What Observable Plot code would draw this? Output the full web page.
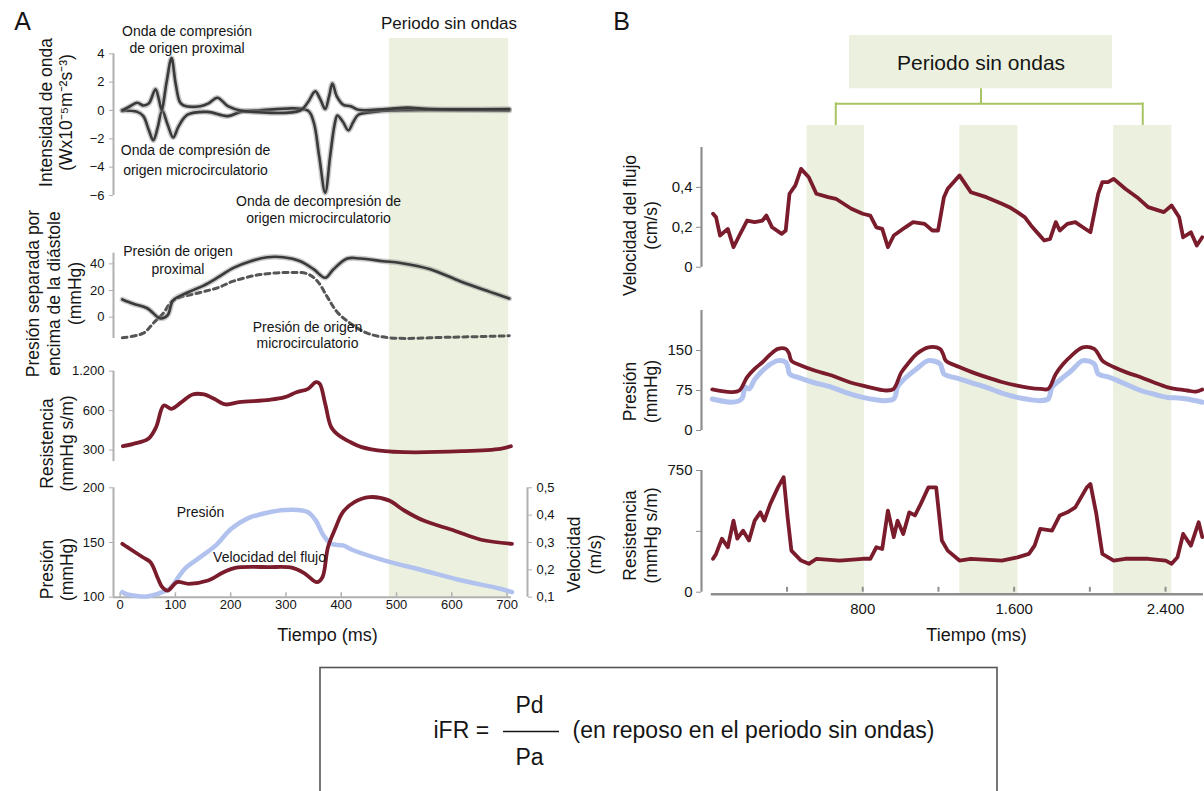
<!DOCTYPE html>
<html><head><meta charset="utf-8">
<script src="https://cdn.jsdelivr.net/npm/d3@7"></script>
<script src="https://cdn.jsdelivr.net/npm/@observablehq/plot@0.6"></script>
<style>
html,body{margin:0;padding:0;background:#fff;}
#chart{position:relative;width:1204px;height:791px;overflow:hidden;background:#fff;}
</style></head><body><div id="chart"></div>
<script>
// ---------------- Panel A data ----------------
const bandA = [487, 703];
const xTicksA = [0, 100, 200, 300, 400, 500, 600, 700];
const waveTicks = [-6, -4, -2, 0, 2, 4];
const waveTickLabels = ["\u22126", "\u22124", "\u22122", "0", "2", "4"];
const waveForward = [[4,0],[18,0.3],[31,0.55],[42,0.35],[52,0.5],[64,1.5],[70,0.8],[75,0.05],[84,2.0],[93,3.7],[100,2.0],[108,0.6],[115,0.35],[145,0.3],[160,0.5],[176,0.9],[195,0.3],[218,0],[326,0],[340,0.6],[353,1.35],[362,0.8],[371,0.1],[378,1.0],[384,1.9],[392,1.0],[404,0.4],[417,0.3],[431,0.05],[480,0.1],[520,0.2],[560,0.1],[620,0.08],[704,0.1]];
const waveBackward = [[4,0],[31,-0.1],[42,-0.4],[52,-1.4],[60,-2.1],[68,-1.2],[76,0],[86,-1.0],[96,-1.9],[106,-1.1],[122,-0.3],[158,-0.1],[194,-0.4],[218,-0.1],[250,0],[339,0],[350,-0.8],[360,-3.2],[371,-5.8],[380,-3.2],[388,-1.0],[393,-0.35],[403,-0.8],[413,-1.4],[422,-0.8],[431,-0.3],[458,-0.1],[489,0],[704,0]];
const sepTicks = [0, 20, 40];
const pressProximal = [[4,13.3],[24,10],[49,6.7],[73,-1],[86,1.5],[96,12.6],[122,18.5],[151,23.7],[176,29.6],[205,37],[236,42],[266,45],[295,45],[326,42],[350,36],[371,29.6],[386,36],[411,44],[435,44],[476,42],[507,40.7],[561,36],[615,27],[669,19],[704,14]];
const pressMicro = [[4,-15.5],[42,-12],[60,-4.5],[78,3],[96,12.6],[145,18.5],[176,22],[205,27],[254,32],[308,33.5],[339,32.5],[357,27],[375,15],[393,3.7],[416,-4.5],[447,-12],[489,-15.5],[600,-15],[704,-14]];
const resTicksA = [300, 600, 1200];
const resTickLabelsA = ["300", "600", "1.200"];
const resistanceA = [[5,321],[24,335],[51,366],[65,448],[79,657],[93,620],[111,696],[131,797],[152,797],[170,739],[191,669],[215,696],[270,725],[298,760],[319,830],[340,880],[354,989],[361,961],[371,676],[382,448],[396,387],[417,344],[437,316],[479,294],[514,289],[618,294],[688,307],[707,321]];
const pressTicksA = [100, 150, 200];
const velTicksA = [0.1, 0.2, 0.3, 0.4, 0.5];
const velTickLabelsA = ["0,1", "0,2", "0,3", "0,4", "0,5"];
const pressureA = [[4,104.6],[13,102.5],[30,101],[48,100.6],[65,102.5],[76,104.6],[90,108],[97,112.2],[117,125.9],[145,136.6],[173,147.3],[201,162.5],[229,171.6],[270,177.7],[312,179.9],[340,177.7],[354,170],[368,156.4],[382,148.8],[403,147.3],[423,142.7],[479,133.5],[549,124.4],[618,115.3],[688,107.7],[709,104.6]];
const velocityA = [[4,0.295],[13,0.283],[41,0.246],[55,0.228],[68,0.17],[76,0.137],[86,0.124],[103,0.155],[124,0.149],[159,0.161],[187,0.191],[208,0.2075],[270,0.21],[312,0.2075],[333,0.188],[356,0.155],[366,0.173],[376,0.283],[389,0.35],[403,0.411],[423,0.447],[451,0.466],[486,0.454],[514,0.417],[549,0.38],[604,0.344],[653,0.31],[709,0.295]];

// ---------------- Panel B data ----------------
const bandsB = [[506,809],[1313,1620],[2126,2433]];
const xTicksB = [400, 800, 1200, 1600, 2000, 2400];
const xLabelTicksB = [800, 1600, 2400];
const xTickLabelsB = ["800", "1.600", "2.400"];
const velTicksB = [0, 0.2, 0.4];
const velTickLabelsB = ["0", "0,2", "0,4"];
const velocityB = [[9,0.268],[25,0.25],[46,0.159],[87,0.192],[117,0.10],[148,0.159],[189,0.234],[229,0.226],[270,0.234],[291,0.259],[321,0.2],[372,0.167],[393,0.184],[413,0.368],[444,0.41],[474,0.493],[515,0.451],[555,0.368],[617,0.351],[658,0.343],[740,0.293],[800,0.268],[840,0.259],[872,0.2],[903,0.192],[933,0.10],[964,0.159],[1025,0.2],[1066,0.226],[1127,0.217],[1168,0.184],[1198,0.184],[1229,0.351],[1249,0.393],[1311,0.46],[1371,0.376],[1453,0.351],[1535,0.318],[1575,0.301],[1617,0.276],[1657,0.25],[1697,0.2],[1728,0.167],[1759,0.134],[1790,0.142],[1820,0.226],[1841,0.184],[1881,0.217],[1923,0.226],[1963,0.2],[2003,0.175],[2044,0.368],[2066,0.426],[2096,0.426],[2126,0.443],[2187,0.393],[2249,0.351],[2308,0.301],[2391,0.276],[2432,0.309],[2472,0.25],[2493,0.15],[2534,0.175],[2565,0.109],[2594,0.15]];
const pressTicksB = [0, 75, 150];
const pressureAorticB = [[5,77],[106,72],[148,75],[189,100],[230,116],[270,128],[310,142],[352,153],[393,153],[410,145],[423,131],[474,122],[550,112],[637,103],[720,92],[800,84],[860,79],[923,75],[963,78],[1004,109],[1045,128],[1086,144],[1147,156],[1208,153],[1225,143],[1239,131],[1310,119],[1380,109],[1453,100],[1535,91],[1616,84],[1680,80],[1738,78],[1780,78],[1820,106],[1860,125],[1902,140],[1963,156],[2023,153],[2045,143],[2066,131],[2126,119],[2200,108],[2269,100],[2340,90],[2412,81],[2470,77],[2515,75],[2560,73],[2594,77]];
const pressureDistalB = [[5,59],[106,53],[148,56],[165,62],[179,81],[199,78],[230,96],[270,112],[310,124],[352,131],[393,128],[405,118],[413,106],[454,100],[540,90],[637,81],[720,70],[800,62],[860,58],[923,56],[963,59],[975,68],[983,81],[1030,100],[1086,116],[1147,131],[1208,125],[1220,114],[1229,106],[1310,97],[1380,89],[1453,81],[1535,70],[1616,62],[1680,58],[1738,56],[1780,59],[1790,68],[1800,81],[1850,97],[1902,112],[1963,131],[2023,125],[2035,114],[2044,106],[2100,100],[2144,94],[2208,84],[2269,75],[2340,68],[2412,62],[2470,61],[2515,59],[2594,53]];
const resTicksB = [0, 375, 750];
const resTickLabelsB = ["0", "", "750"];
const resistanceB = [[9,206],[25,236],[56,330],[87,277],[117,441],[137,330],[168,379],[199,319],[229,441],[259,492],[280,441],[311,543],[352,646],[382,709],[403,462],[423,256],[474,195],[515,175],[556,206],[678,195],[800,206],[840,206],[872,277],[903,266],[933,503],[964,340],[984,441],[1014,359],[1046,492],[1076,473],[1106,543],[1147,646],[1188,646],[1218,319],[1249,256],[1311,195],[1371,206],[1535,195],[1617,215],[1678,236],[1708,287],[1738,390],[1800,379],[1841,473],[1881,492],[1923,523],[1984,646],[2003,667],[2034,484],[2066,236],[2126,195],[2187,206],[2308,206],[2401,195],[2432,175],[2463,215],[2493,359],[2534,287],[2575,431],[2594,340]];

// ---------------- styles ----------------
const W = 1204, H = 791;
const FONT = '"Liberation Sans", Arial, Helvetica, sans-serif';
const RED = "#7a1c2c", BLUE = "#b2c2ee", GREEN = "#ebf1de", BRACKET = "#a8c462";
const AXA = "#b0b0b0", AXB = "#8e8e8e", INK = "#151515";
const xDomA = [-12, 737];
const xDomB = [-52, 2600];
const lab = (ticks, labels) => d => labels[ticks.indexOf(d)];
const v2p = v => 100 + (v - 0.1) * 250;

function frame(l, r, t, b, fs) {
  return {width: W, height: H, marginLeft: l, marginRight: W - r, marginTop: t, marginBottom: H - b,
    style: {background: "transparent", fontFamily: FONT, fontSize: (fs || 13) + "px", color: INK,
            overflow: "visible", position: "absolute", left: "0px", top: "0px", maxWidth: "none"}};
}
const X = d => d[0], Y = d => d[1];
const root = document.getElementById("chart");
const add = el => root.appendChild(el);

// ---------------- backgrounds ----------------
add(Plot.plot({
  ...frame(113, 527, 0, H),
  x: {domain: xDomA, axis: null}, y: {type: "identity", axis: null},
  marks: [
    Plot.rect([bandA], {x1: d => d[0], x2: d => d[1], y1: () => 38, y2: () => 596.7, fill: GREEN}),
    Plot.text([bandA], {x: d => (d[0] + d[1]) / 2, y: () => 23, text: () => "Periodo sin ondas", fontSize: 17, fill: INK})
  ]
}));
const boxB = [730, 2120];
const c1 = (bandsB[0][0] + bandsB[0][1]) / 2, c3 = (bandsB[2][0] + bandsB[2][1]) / 2;
const cBox = (boxB[0] + boxB[1]) / 2;
add(Plot.plot({
  ...frame(701, 1202.9, 0, H),
  x: {domain: xDomB, axis: null}, y: {type: "identity", axis: null},
  marks: [
    Plot.rect(bandsB, {x1: d => d[0], x2: d => d[1], y1: () => 125, y2: () => 593, fill: GREEN}),
    Plot.rect([boxB], {x1: d => d[0], x2: d => d[1], y1: () => 35, y2: () => 88.3, fill: GREEN}),
    Plot.text([boxB], {x: () => cBox, y: () => 63, text: () => "Periodo sin ondas", fontSize: 21, fill: INK}),
    Plot.ruleX([cBox], {y1: () => 88.3, y2: () => 103.3, stroke: BRACKET, strokeWidth: 2}),
    Plot.ruleY([103.3], {x1: () => c1, x2: () => c3, stroke: BRACKET, strokeWidth: 2}),
    Plot.ruleX([c1, c3], {y1: () => 102.3, y2: () => 125, stroke: BRACKET, strokeWidth: 2})
  ]
}));

// ---------------- Panel A subplots ----------------
const grayLine = (data, extra) => [
  Plot.line(data, {x: X, y: Y, curve: "catmull-rom", stroke: "#8a8a8a", strokeOpacity: 0.45, strokeWidth: 5.5, ...extra}),
  Plot.line(data, {x: X, y: Y, curve: "catmull-rom", stroke: "#3a3a3a", strokeWidth: 2.6, ...extra})
];
add(Plot.plot({
  ...frame(113, 527, 53.3, 195),
  x: {domain: xDomA, axis: null}, y: {domain: [-6, 4]},
  marks: [
    Plot.ruleX([xDomA[0]], {stroke: AXA, strokeWidth: 2}),
    Plot.axisY({ticks: waveTicks, tickFormat: lab(waveTicks, waveTickLabels), tickSize: 4, stroke: AXA, fill: INK, label: null}),
    ...grayLine(waveBackward),
    ...grayLine(waveForward)
  ]
}));
add(Plot.plot({
  ...frame(113, 527, 252.7, 338),
  x: {domain: xDomA, axis: null}, y: {domain: [-16, 48]},
  marks: [
    Plot.ruleX([xDomA[0]], {stroke: AXA, strokeWidth: 2}),
    Plot.axisY({ticks: sepTicks, tickSize: 4, stroke: AXA, fill: INK, label: null}),
    Plot.line(pressMicro, {x: X, y: Y, curve: "catmull-rom", stroke: "#555", strokeWidth: 3, strokeDasharray: "5,4"}),
    ...grayLine(pressProximal)
  ]
}));
add(Plot.plot({
  ...frame(113, 527, 370.7, 461.1),
  x: {domain: xDomA, axis: null}, y: {type: "log", domain: [245, 1200]},
  marks: [
    Plot.ruleX([xDomA[0]], {stroke: AXA, strokeWidth: 2}),
    Plot.axisY({ticks: resTicksA, tickFormat: lab(resTicksA, resTickLabelsA), tickSize: 4, stroke: AXA, fill: INK, label: null}),
    Plot.line(resistanceA, {x: X, y: Y, curve: "catmull-rom", stroke: RED, strokeWidth: 3.8, strokeLinejoin: "round"})
  ]
}));
const velTicksAp = velTicksA.map(v2p);
add(Plot.plot({
  ...frame(113, 527, 487.3, 596.7),
  x: {domain: xDomA}, y: {domain: [100, 200]},
  marks: [
    Plot.ruleX([xDomA[0], xDomA[1]], {stroke: AXA, strokeWidth: 2}),
    Plot.ruleY([100], {x1: () => xDomA[0], x2: () => 708, stroke: AXA, strokeWidth: 2}),
    Plot.ruleX(xTicksA, {y1: () => 100, y2: () => 104, stroke: AXA, strokeWidth: 1.5}),
    Plot.axisY({ticks: pressTicksA, tickSize: 4, stroke: AXA, fill: INK, label: null}),
    Plot.axisY({anchor: "right", ticks: velTicksAp, tickFormat: lab(velTicksAp, velTickLabelsA), tickSize: 4, stroke: AXA, fill: INK, label: null}),
    Plot.axisX({ticks: xTicksA, tickSize: 0, tickPadding: 3, fill: INK, label: null}),
    Plot.line(pressureA, {x: X, y: Y, curve: "catmull-rom", stroke: BLUE, strokeWidth: 4.5}),
    Plot.line(velocityA, {x: X, y: d => v2p(d[1]), curve: "catmull-rom", stroke: RED, strokeWidth: 3.8})
  ]
}));

// ---------------- Panel B subplots ----------------
add(Plot.plot({
  ...frame(701, 1202.9, 147, 266.7, 15),
  x: {domain: xDomB, axis: null}, y: {domain: [0, 0.6]},
  marks: [
    Plot.ruleX([xDomB[0]], {stroke: AXB, strokeWidth: 2.2}),
    Plot.axisY({ticks: velTicksB, tickFormat: lab(velTicksB, velTickLabelsB), tickSize: 5, stroke: AXB, fill: INK, label: null}),
    Plot.line(velocityB, {x: X, y: Y, stroke: RED, strokeWidth: 3.8, strokeLinejoin: "round"})
  ]
}));
add(Plot.plot({
  ...frame(701, 1202.9, 310, 430, 15),
  x: {domain: xDomB, axis: null}, y: {domain: [0, 225]},
  marks: [
    Plot.ruleX([xDomB[0]], {stroke: AXB, strokeWidth: 2.2}),
    Plot.axisY({ticks: pressTicksB, tickSize: 5, stroke: AXB, fill: INK, label: null}),
    Plot.line(pressureDistalB, {x: X, y: Y, curve: "catmull-rom", stroke: BLUE, strokeWidth: 5}),
    Plot.line(pressureAorticB, {x: X, y: Y, curve: "catmull-rom", stroke: RED, strokeWidth: 3.8})
  ]
}));
add(Plot.plot({
  ...frame(701, 1202.9, 470, 591.7, 15),
  x: {domain: xDomB}, y: {domain: [0, 750]},
  marks: [
    Plot.ruleX([xDomB[0]], {stroke: AXB, strokeWidth: 2.2}),
    Plot.ruleY([0], {x1: () => 0, x2: () => xDomB[1], stroke: AXB, strokeWidth: 2.5, dy: 2}),
    Plot.ruleX(xTicksB, {y1: () => 0, y2: () => 30, stroke: AXB, strokeWidth: 2}),
    Plot.axisY({ticks: resTicksB, tickFormat: lab(resTicksB, resTickLabelsB), tickSize: 5, stroke: AXB, fill: INK, label: null}),
    Plot.axisX({ticks: xLabelTicksB, tickFormat: lab(xLabelTicksB, xTickLabelsB), tickSize: 0, tickPadding: 11, fill: INK, label: null}),
    Plot.line(resistanceB, {x: X, y: Y, stroke: RED, strokeWidth: 3.8, strokeLinejoin: "round"})
  ]
}));

// ---------------- text overlay ----------------
const annotations = [
  {t: "Onda de compresión\nde origen proximal", x: 186.5, y: 38.5, lh: 1.22},
  {t: "Onda de compresión de\norigen microcirculatorio", x: 195, y: 158, lh: 1.42},
  {t: "Onda de decompresión de\norigen microcirculatorio", x: 318, y: 208.5, lh: 1.22},
  {t: "Presión de origen\nproximal", x: 177.5, y: 258.5, lh: 1.31},
  {t: "Presión de origen\nmicrocirculatorio", x: 307, y: 334.3, lh: 1.19},
  {t: "Presión", x: 200, y: 511.7, lh: 1},
  {t: "Velocidad del flujo", x: 269, y: 556.7, lh: 1}
];
const axisTitles = [
  {t: "Intensidad de onda\n(Wx10\u207B\u2075m\u207B\u00B2s\u207B\u00B3)", x: 55, y: 112, lh: 1.15},
  {t: "Presión separada por\nencima de la diástole\n(mmHg)", x: 52.5, y: 293, lh: 1.2},
  {t: "Resistencia\n(mmHg s/m)", x: 56, y: 443, lh: 1.15},
  {t: "Presión\n(mmHg)", x: 56, y: 569, lh: 1.15},
  {t: "Velocidad\n(m/s)", x: 583.5, y: 554, lh: 1.2},
  {t: "Velocidad del flujo\n(cm/s)", x: 639.5, y: 225, lh: 1.2},
  {t: "Presión\n(mmHg)", x: 639.5, y: 391, lh: 1.2},
  {t: "Resistencia\n(mmHg s/m)", x: 639.5, y: 535, lh: 1.2}
];
const plainTexts = [
  {t: "A", x: 22, y: 21, s: 25, a: "middle"},
  {t: "B", x: 621, y: 21, s: 25, a: "middle"},
  {t: "Tiempo (ms)", x: 327, y: 635, s: 18, a: "middle"},
  {t: "Tiempo (ms)", x: 976, y: 635, s: 18, a: "middle"},
  {t: "iFR =", x: 433, y: 730, s: 23, a: "start"},
  {t: "Pd", x: 529, y: 705, s: 23, a: "middle"},
  {t: "Pa", x: 529, y: 757, s: 23, a: "middle"},
  {t: "(en reposo en el periodo sin ondas)", x: 572, y: 730, s: 23, a: "start"}
];
const formulaBox = [{x1: 320, x2: 997, y1: 667.5, y2: 830}];
const fractionBar = [{x1: 503, x2: 559, y: 731}];
add(Plot.plot({
  width: W, height: H, margin: 0,
  style: {background: "transparent", fontFamily: FONT, color: INK, overflow: "visible", position: "absolute", left: "0px", top: "0px", maxWidth: "none"},
  x: {type: "identity", axis: null}, y: {type: "identity", axis: null},
  marks: [
    Plot.rect(formulaBox, {x1: "x1", x2: "x2", y1: "y1", y2: "y2", fill: "none", stroke: "#555", strokeWidth: 1.6}),
    Plot.ruleY(fractionBar, {y: "y", x1: "x1", x2: "x2", stroke: INK, strokeWidth: 1.3}),
    ...plainTexts.map(d => Plot.text([d], {x: "x", y: "y", text: "t", fontSize: d.s, textAnchor: d.a, fill: INK})),
    ...annotations.map(d => Plot.text([d], {x: "x", y: "y", text: "t", fontSize: 14, lineHeight: d.lh, fill: INK})),
    ...axisTitles.map(d => Plot.text([d], {x: "x", y: "y", text: "t", fontSize: 17.5, lineHeight: d.lh, rotate: -90, fill: INK}))
  ]
}));
</script></body></html>
